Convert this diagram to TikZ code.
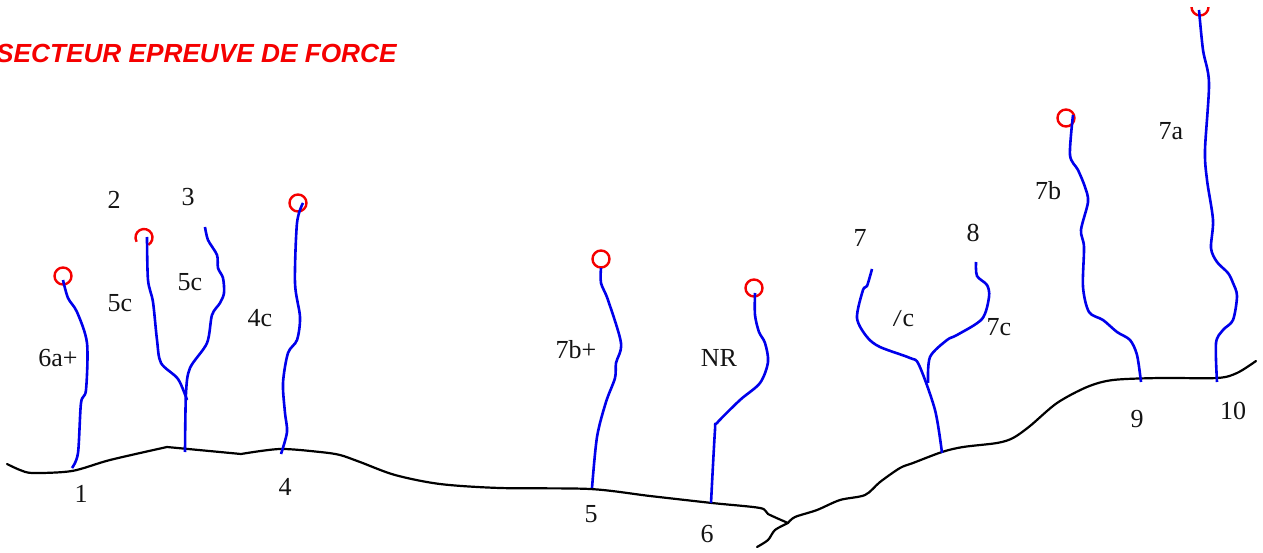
\documentclass[tikz,border=0pt]{standalone}
\usepackage{fontspec}
\setmainfont{Liberation Serif}
\newfontfamily\titlefont{Liberation Sans}
\definecolor{routeblue}{RGB}{0,0,235}
\definecolor{topred}{RGB}{245,0,0}
\tikzset{
  x=1pt,y=-1pt,
  rockline/.style={draw=black,line width=2.2pt,line join=round,line cap=round},
  routeline/.style={draw=routeblue,line width=2.6pt,line join=round,line cap=butt},
  belay/.style={draw=topred,line width=2.4pt},
  topring/.style={belay,circle,minimum size=17pt,inner sep=0pt},
  lab/.style={inner sep=0pt,font=\fontsize{26}{26}\selectfont,text=black!92},
  titlelab/.style={inner sep=0pt,anchor=base west,text=topred,font=\titlefont\fontsize{26.2}{26.2}\selectfont\bfseries\itshape}
}
\begin{document}
\begin{tikzpicture}
\useasboundingbox (0,0) rectangle (1263,553);
\clip (0,0) rectangle (1263,553);
\fill[white] (0,0) rectangle (1263,553);
% ground
\path[rockline] plot[smooth,tension=.5] coordinates {(7,464) (20,470) (33,473) (72,471) (110,460) (167,447)} -- (241,454) plot[smooth,tension=.5] coordinates {(241,454) (280,449) (320,452) (340,455) (360,462) (395,475) (440,484) (500,488) (590,489) (650,496) (712,503) (760,508) (768,514) (788,523)};
\path[rockline] plot[smooth,tension=.5] coordinates {(757,547) (768,540) (775,530) (788,523)};
\path[rockline] plot[smooth,tension=.5] coordinates {(788,523) (795,517) (817,510) (840,500) (865,495) (880,482) (900,468) (913,463) (942,452) (963,447) (997,443) (1013,438) (1030,426) (1057,403) (1087,387) (1113,380) (1160,378) (1217,378) (1237,373) (1256,361)};
% tops
\node[topring] (t1) at (63,276) {};
\draw[belay] (144,237.5) ++(150:8.5) arc[start angle=150,end angle=420,radius=8.5];
\node[topring] (t4) at (298,203) {};
\node[topring] (t5) at (601,259) {};
\node[topring] (t6) at (754,288) {};
\node[topring] (t9) at (1066,118) {};
\begin{scope}
\clip (1185,8) rectangle (1215,20);
\node[topring] (t10) at (1200,7) {};
\end{scope}
% routes
\path[routeline] plot[smooth,tension=.5] coordinates {(63,280) (68,298) (77,312) (87,343) (86,390) (81,403) (78,453) (72,468)};
\path[routeline] plot[smooth,tension=.5] coordinates {(147,237) (148,280) (153,302) (157,340) (161,363) (178,379) (187,400)};
\path[routeline] plot[smooth,tension=.5] coordinates {(205,227) (208,240) (217,255) (218,268) (223,278) (224,293) (220,303) (212,315) (207,343) (190,368) (186,393) (185,452)};
\path[routeline] plot[smooth,tension=.5] coordinates {(303,203) (297,223) (295,283) (300,317) (297,340) (288,353) (283,383) (285,413) (287,432) (281,454)};
\path[routeline] plot[smooth,tension=.5] coordinates {(601,268) (601,283) (608,300) (621,343) (616,363) (615,378) (606,402) (597,437) (592,488)};
\path[routeline] plot[smooth,tension=.5] coordinates {(755,293) (755,315) (759,332) (765,343) (768,362) (760,383) (740,400) (717,423) (715,430) (711,503)};
\path[routeline] plot[smooth,tension=.5] coordinates {(872,269) (867,286) (863,290) (857,318) (867,337) (880,347) (910,358) (919,365) (935,410) (942,453)};
\path[routeline] plot[smooth,tension=.5] coordinates {(976,262) (977,276) (987,285) (989,297) (982,319) (957,335) (947,340) (930,357) (928,383)};
\path[routeline] plot[smooth,tension=.5] coordinates {(1073,115) (1070,155) (1078,170) (1085,187) (1088,202) (1081,230) (1084,247) (1083,287) (1089,312) (1103,320) (1117,332) (1130,340) (1137,355) (1141,382)};
\path[routeline] plot[smooth,tension=.5] coordinates {(1199,10) (1203,50) (1209,83) (1205,150) (1207,180) (1213,220) (1211,248) (1217,262) (1228,273) (1233,283) (1237,296) (1233,320) (1223,330) (1216,343) (1217,382)};
% labels
\node[titlelab] (title) at (-4,63) {SECTEUR EPREUVE DE FORCE};
\node[lab] (l2) at (114,200) {2};
\node[lab] (l3) at (188,197) {3};
\node[lab] (r1) at (58,358) {6a+};
\node[lab] (r2) at (120,303) {5c};
\node[lab] (r3) at (190,282) {5c};
\node[lab] (r4) at (260,318) {4c};
\node[lab] (l1) at (81,494) {1};
\node[lab] (l4) at (285,487) {4};
\node[lab] (l5) at (591,514) {5};
\node[lab] (l6) at (707,534) {6};
\node[lab] (r5) at (576,350) {7b+};
\node[lab] (r6) at (719,358) {NR};
\node[lab] (l7) at (860,238) {7};
\node[lab] (l8) at (973,233) {8};
\node[lab] (r7) at (902,318) {7c};
\fill[white] (885,305) -- (905,305) -- (905,308) -- (897,312) -- (892,328) -- (885,328) -- cycle;
\node[lab] (r8) at (999,327) {7c};
\node[lab] (r9) at (1048,191) {7b};
\node[lab] (r10) at (1171,131) {7a};
\node[lab] (l9) at (1137,419) {9};
\node[lab] (l10) at (1233,411) {10};
\end{tikzpicture}
\end{document}
